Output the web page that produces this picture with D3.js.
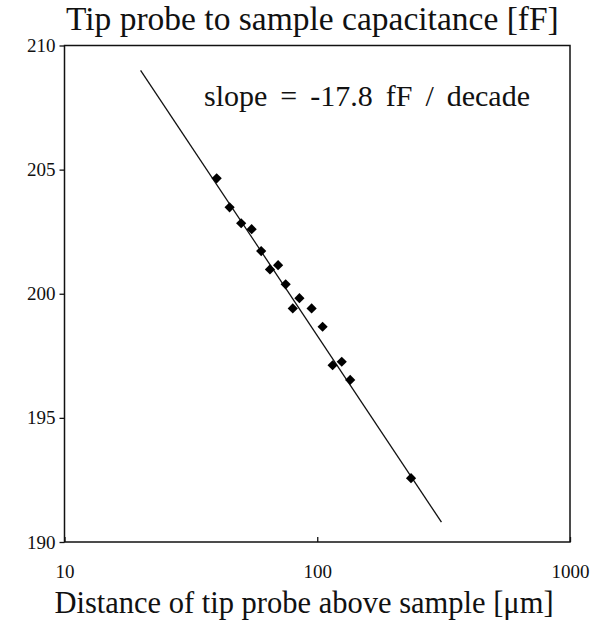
<!DOCTYPE html>
<html>
<head>
<meta charset="utf-8">
<script src="https://cdn.jsdelivr.net/npm/d3@7"></script>
<style>
  html, body { margin: 0; padding: 0; background: #fff; }
  svg { display: block; }
  text { font-family: "Liberation Serif", "DejaVu Serif", serif; fill: #111; }
</style>
</head>
<body>
<svg id="chart" width="598" height="624"></svg>
<script>
// Data
const distance = [40, 45, 50, 55, 60, 65, 70, 75, 85, 80, 95, 105, 115, 125, 135, 235];
const capacitance = [204.65, 203.48, 202.84, 202.60, 201.72, 200.98, 201.15, 200.38, 199.82, 199.41, 199.41, 198.67, 197.12, 197.26, 196.53, 192.57];
const fitX = [20, 310];
const fitY = [209.0, 190.8];
const xTicks = [10, 100, 1000];
const yTicks = [190, 195, 200, 205, 210];
const titleText = "Tip probe to sample capacitance [fF]";
const xLabelText = "Distance of tip probe above sample [\u03bcm]";
const annotation = "slope = -17.8 fF / decade";

const svg = d3.select("#chart");
const margin = { left: 64.5, right: 598 - 570, top: 45.5, bottom: 624 - 542 };
const W = 598, H = 624;
const serif = '"Liberation Serif", "DejaVu Serif", serif';

const x = d3.scaleLog().domain([10, 1000]).range([margin.left, W - margin.right]);
const y = d3.scaleLinear().domain([190, 210]).range([H - margin.bottom, margin.top]);

// frame
svg.append("rect")
  .attr("x", x(10)).attr("y", y(210))
  .attr("width", x(1000) - x(10)).attr("height", y(190) - y(210))
  .attr("fill", "none").attr("stroke", "#111").attr("stroke-width", 1.5);

// y axis
const yAxis = d3.axisLeft(y).tickValues(yTicks).tickSize(5).tickPadding(4).tickFormat(d3.format("d"));
const gy = svg.append("g").attr("transform", `translate(${x(10)},0)`).call(yAxis)
  .attr("font-family", serif).attr("font-size", 19);
gy.select(".domain").remove();
gy.selectAll(".tick line").attr("stroke", "#111").attr("stroke-width", 1.3);
gy.selectAll(".tick text").attr("fill", "#111");

// x axis (ticks inside)
const xAxis = d3.axisBottom(x).tickValues(xTicks).tickSize(-5).tickPadding(23).tickFormat(d3.format("d"));
const gx = svg.append("g").attr("transform", `translate(0,${y(190)})`).call(xAxis)
  .attr("font-family", serif).attr("font-size", 19);
gx.select(".domain").remove();
gx.selectAll(".tick line").attr("stroke", "#111").attr("stroke-width", 1.3);
gx.selectAll(".tick text").attr("fill", "#111");

// fit line
const line = d3.line().x((d, i) => x(fitX[i])).y((d, i) => y(fitY[i]));
svg.append("path")
  .datum(fitX)
  .attr("d", line)
  .attr("fill", "none").attr("stroke", "#111").attr("stroke-width", 1.3);

// data points (diamonds)
svg.append("g").selectAll("path")
  .data(distance)
  .join("path")
  .attr("transform", (d, i) => `translate(${x(d)},${y(capacitance[i])}) rotate(45)`)
  .attr("d", d3.symbol().type(d3.symbolSquare).size(52))
  .attr("fill", "#000");

// title
svg.append("text").attr("x", 66).attr("y", 30)
  .attr("font-family", serif).attr("font-size", 33.5).text(titleText);

// x label
svg.append("text").attr("x", 304).attr("y", 613).attr("text-anchor", "middle")
  .attr("font-family", serif).attr("font-size", 30.5).text(xLabelText);

// annotation
const ann = svg.append("text").attr("x", 204).attr("y", 106)
  .attr("font-family", serif).attr("font-size", 30).text(annotation);
const natural = ann.node().getComputedTextLength();
const nSpaces = annotation.split(" ").length - 1;
const extra = Math.max(0, (326 - natural) / nSpaces);
ann.style("word-spacing", extra + "px");
</script>
</body>
</html>
